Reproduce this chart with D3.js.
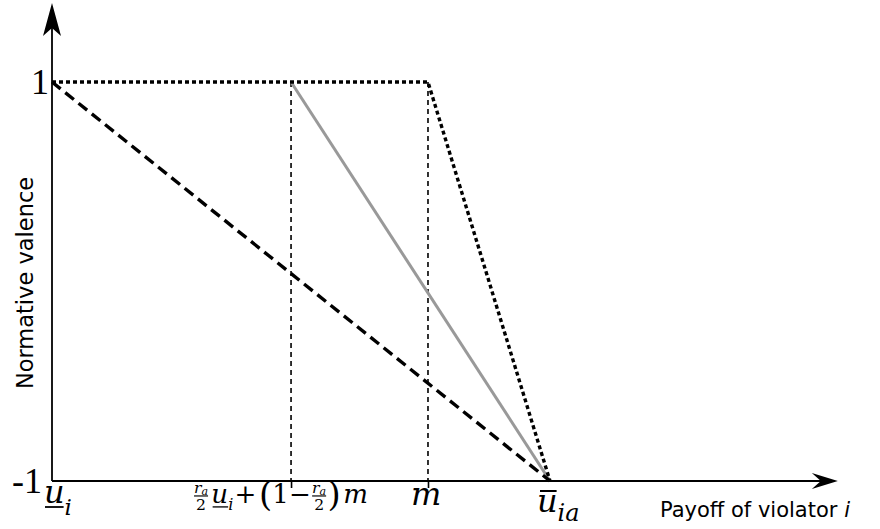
<!DOCTYPE html>
<html>
<head>
<meta charset="utf-8">
<script src="https://cdn.jsdelivr.net/npm/d3@7"></script>
<style>
  html, body { margin: 0; padding: 0; background: #fff; }
  svg { display: block; }
  text { fill: #000; }
  .serif { font-family: "DejaVu Serif", "Liberation Serif", serif; }
  .num { font-family: "Liberation Serif", "DejaVu Serif", serif; }
  .sans { font-family: "DejaVu Sans", sans-serif; }
</style>
</head>
<body>
<svg id="chart" width="880" height="529"></svg>
<script>
// Payoff positions on the horizontal axis (lower bound u_i = 0, upper bound ū_ia = 1)
const xTickNames = ["u_i", "mix", "m", "ubar_ia"];
const xTickValues = [0, 0.48, 0.755, 1];
const yTickValues = [-1, 1];
const yTickLabels = ["-1", "1"];

// Normative valence curves
const dottedX = [0, 0.755, 1];
const dottedY = [1, 1, -1];
const grayX = [0.48, 1];
const grayY = [1, -1];
const dashedX = [0, 1];
const dashedY = [1, -1];

// Guide lines dropped from the plateau at the two interior payoffs
const guideX = [0.48, 0.755];

const svg = d3.select("#chart");
const x = d3.scaleLinear().domain([0, 1]).range([52, 550]);
const y = d3.scaleLinear().domain([-1, 1]).range([481, 82]);
const xEnd = 1.578;     // axis extent beyond ū_ia
const yTop = 1.396;     // axis extent above valence 1

// Guides
svg.append("g").selectAll("line").data(guideX).join("line")
  .attr("x1", d => x(d)).attr("x2", d => x(d))
  .attr("y1", y(1)).attr("y2", y(-1))
  .attr("stroke", "#000").attr("stroke-width", 1.6)
  .attr("stroke-dasharray", "5,4");

const line = d3.line().x(d => x(d[0])).y(d => y(d[1]));

svg.append("path").datum(d3.zip(grayX, grayY))
  .attr("d", line).attr("fill", "none")
  .attr("stroke", "#999").attr("stroke-width", 3);

svg.append("path").datum(d3.zip(dashedX, dashedY))
  .attr("d", line).attr("fill", "none")
  .attr("stroke", "#000").attr("stroke-width", 3.4)
  .attr("stroke-dasharray", "11,6");

svg.append("path").datum(d3.zip(dottedX, dottedY))
  .attr("d", line).attr("fill", "none")
  .attr("stroke", "#000").attr("stroke-width", 3.4)
  .attr("stroke-dasharray", "4,3");

// Axes
const xAxis = d3.axisBottom(x).tickValues(guideX).tickFormat("").tickSizeInner(7).tickSizeOuter(0);
const gx = svg.append("g").attr("transform", `translate(0,${y(-1)})`).call(xAxis);
gx.select(".domain").remove();
gx.selectAll(".tick line").attr("stroke-width", 1.6);

svg.append("line")
  .attr("x1", x(0)).attr("x2", x(xEnd) - 10)
  .attr("y1", y(-1)).attr("y2", y(-1))
  .attr("stroke", "#000").attr("stroke-width", 1.8);
svg.append("line")
  .attr("x1", x(0)).attr("x2", x(0))
  .attr("y1", y(-1)).attr("y2", y(yTop) + 10)
  .attr("stroke", "#000").attr("stroke-width", 1.8);

// Arrowheads
const ax = x(xEnd), ay = y(-1);
svg.append("path")
  .attr("d", `M${ax},${ay} L${ax - 26},${ay - 8} L${ax - 17},${ay} L${ax - 26},${ay + 8} Z`)
  .attr("fill", "#000");
const bx = x(0), by = y(yTop);
svg.append("path")
  .attr("d", `M${bx},${by} L${bx - 9},${by + 33} L${bx},${by + 25} L${bx + 9},${by + 33} Z`)
  .attr("fill", "#000");

// Y tick labels
const yLabelGap = [10, 3];
svg.append("g").selectAll("text").data(yTickValues).join("text")
  .attr("class", "num")
  .attr("x", (d, i) => x(0) - yLabelGap[i])
  .attr("y", d => y(d) + 12)
  .attr("text-anchor", "end")
  .attr("font-size", 36)
  .text((d, i) => yTickLabels[i]);

// ---- Small typesetting helper for the tick formulas ----
// Each piece is placed after the previous one; the group is then positioned
// (and, for the long formula, scaled to a width).
function formula(parent) {
  const g = parent.append("g");
  let cx = 0;
  return {
    text(str, { size = 20, italic = false, dy = 0, cls = "serif", gap = 0 } = {}) {
      cx += gap;
      const t = g.append("text").attr("class", cls).attr("x", cx).attr("y", dy)
        .attr("font-size", size).attr("font-style", italic ? "italic" : "normal").text(str);
      const x0 = cx;
      cx += t.node().getComputedTextLength();
      return { x0, x1: cx };
    },
    frac(size) {
      const left = cx + 1;
      const num = g.append("text").attr("class", "serif").attr("font-style", "italic")
        .attr("font-size", size * 0.6).attr("x", left).attr("y", -size * 0.4);
      num.append("tspan").text("r");
      num.append("tspan").attr("font-size", size * 0.42).attr("dy", size * 0.08).text("a");
      const w = num.node().getComputedTextLength();
      g.append("line").attr("x1", left).attr("x2", left + w)
        .attr("y1", -size * 0.27).attr("y2", -size * 0.27)
        .attr("stroke", "#000").attr("stroke-width", size * 0.045);
      g.append("text").attr("class", "serif").attr("font-size", size * 0.6)
        .attr("x", left + w / 2).attr("y", size * 0.28).attr("text-anchor", "middle").text("2");
      cx = left + w + 1;
    },
    bar(x0, x1, yy, sw) {
      g.append("line").attr("x1", x0).attr("x2", x1).attr("y1", yy).attr("y2", yy)
        .attr("stroke", "#000").attr("stroke-width", sw);
    },
    place(left, baseline) {
      const bb = g.node().getBBox();
      g.attr("transform", `translate(${left - bb.x},${baseline})`);
    },
    fit(left, right, baseline) {
      const bb = g.node().getBBox();
      const k = (right - left) / bb.width;
      g.attr("transform", `translate(${left - bb.x * k},${baseline}) scale(${k})`);
    }
  };
}

const lab = svg.append("g");

// u_i with underline
{
  const f = formula(lab);
  const u = f.text("u", { size: 32, italic: true });
  f.bar(u.x0 + 1, u.x1 - 1, 4, 1.8);
  f.text("i", { size: 23, italic: true, dy: 12 });
  f.place(x(xTickValues[0]) - 8, 503);
}

// (r_a/2) u_i + (1 − r_a/2) m
{
  const S = 20;
  const f = formula(lab);
  f.frac(S);
  const u = f.text("u", { size: S, italic: true, gap: 1.5 });
  f.bar(u.x0 + 1, u.x1, 3, 1);
  f.text("i", { size: S * 0.62, italic: true, dy: S * 0.25 });
  f.text("+", { size: S, gap: 1 });
  f.text("(", { size: S * 1.3, dy: S * 0.12, gap: 2 });
  f.text("1", { size: S });
  f.text("\u2212", { size: S });
  f.frac(S);
  f.text(")", { size: S * 1.3, dy: S * 0.12 });
  f.text("m", { size: S, italic: true, gap: 2 });
  const c = x(xTickValues[1]);
  f.fit(c - 97, c + 77, 503);
}

// m
{
  const f = formula(lab);
  f.text("m", { size: 32, italic: true });
  f.place(x(xTickValues[2]) - 17, 505);
}

// ū_ia with overbar
{
  const f = formula(lab);
  const u = f.text("u", { size: 32, italic: true });
  f.bar(u.x0 + 3, u.x1 - 1, -21, 2);
  f.text("ia", { size: 24, italic: true, dy: 9 });
  f.place(x(xTickValues[3]) - 13, 512);
}

// Axis titles
const xt = svg.append("text").attr("class", "sans").attr("x", 660).attr("y", 517).attr("font-size", 21);
xt.append("tspan").text("Payoff of violator ");
xt.append("tspan").attr("font-style", "italic").text("i");

svg.append("text").attr("class", "sans")
  .attr("transform", "translate(33,283) rotate(-90)")
  .attr("text-anchor", "middle").attr("font-size", 22.5)
  .text("Normative valence");
</script>
</body>
</html>
